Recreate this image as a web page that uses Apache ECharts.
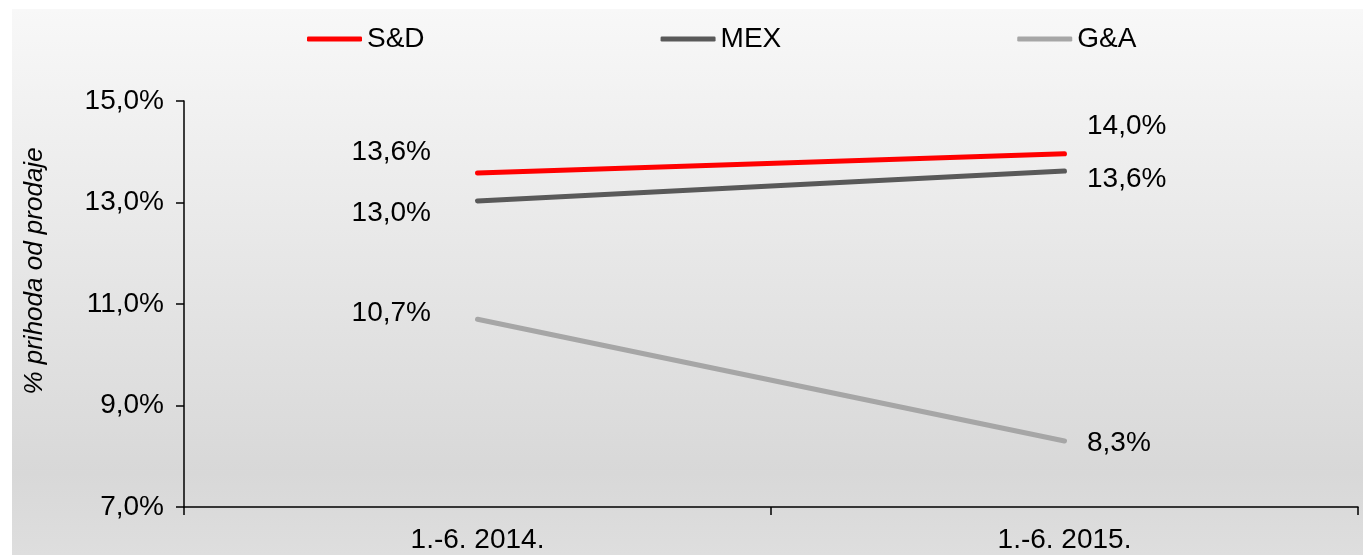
<!DOCTYPE html>
<html><head><meta charset="utf-8">
<script src="https://cdn.jsdelivr.net/npm/echarts@6/dist/echarts.min.js"></script>
<style>html,body{margin:0;padding:0;background:#fff}#c{width:1363px;height:555px}</style>
</head><body><div id="c"></div>
<script>
const categories = ['1.-6. 2014.', '1.-6. 2015.'];
const seriesNames = ['S&D', 'MEX', 'G&A'];
const sdValues = [13.58, 13.96];
const mexValues = [13.03, 13.62];
const gaValues = [10.7, 8.3];
const yTicks = [7, 9, 11, 13, 15];

const colors = ['#ff0000', '#595959', '#a6a6a6'];
const labelOffsets = [
  [[0, -21], [0, -27]],
  [[0, 12], [0, 8]],
  [[0, -6], [0, 2]]
];
const fmt = v => (Math.round(v * 10) / 10).toFixed(1).replace('.', ',') + '%';
const font = 'Liberation Sans, Arial, sans-serif';
const fs = 28;

function mk(i, vals) {
  return {
    name: seriesNames[i], type: 'line',
    symbol: 'circle', symbolSize: 1,
    lineStyle: { color: colors[i], width: 5, cap: 'round' },
    itemStyle: { color: colors[i] },
    emphasis: { disabled: true },
    data: vals.map((v, j) => ({
      value: v,
      label: {
        show: true,
        position: j === 0 ? 'left' : 'right',
        distance: j === 0 ? 46 : 22,
        offset: labelOffsets[i][j],
        formatter: p => fmt(p.value),
        color: '#000', fontSize: fs, fontFamily: font
      }
    }))
  };
}

const chart = echarts.init(document.getElementById('c'));
chart.setOption({
  animation: false,
  graphic: [
    { type: 'rect', z: -10, shape: { x: 12, y: 9, width: 1351, height: 546 },
      style: { fill: new echarts.graphic.LinearGradient(0, 0, 0, 1, [
        { offset: 0, color: '#f8f8f8' }, { offset: 0.85, color: '#d8d8d8' }, { offset: 1, color: '#dedede' }]) } },
    { type: 'text', x: 35, y: 271, rotation: Math.PI / 2,
      style: { text: '% prihoda od prodaje', fontSize: 26, fontStyle: 'italic', fontFamily: font,
        fill: '#000', align: 'center', verticalAlign: 'middle' } }
  ],
  legend: {
    left: 307, top: 25, padding: 0, itemWidth: 55, itemHeight: 5, itemGap: 236,
    icon: 'roundRect',
    textStyle: { fontSize: fs, fontFamily: font, color: '#000', padding: [0, 0, 0, 0] },
    data: seriesNames
  },
  grid: { left: 184, right: 5, top: 101, bottom: 48 },
  xAxis: {
    type: 'category', data: categories, boundaryGap: true,
    axisLine: { lineStyle: { color: '#000', width: 1.5 } },
    axisTick: { show: true, length: 8, lineStyle: { color: '#000', width: 1.5 } },
    axisLabel: { fontSize: fs, fontFamily: font, color: '#000', margin: 19 }
  },
  yAxis: {
    type: 'value', min: yTicks[0], max: yTicks[yTicks.length - 1], interval: 2,
    splitLine: { show: false },
    axisLine: { show: true, lineStyle: { color: '#000', width: 1.5 } },
    axisTick: { show: true, length: 8, lineStyle: { color: '#000', width: 1.5 } },
    axisLabel: { fontSize: fs, fontFamily: font, color: '#000', margin: 20, formatter: v => fmt(v) }
  },
  series: [mk(0, sdValues), mk(1, mexValues), mk(2, gaValues)]
});
</script></body></html>
